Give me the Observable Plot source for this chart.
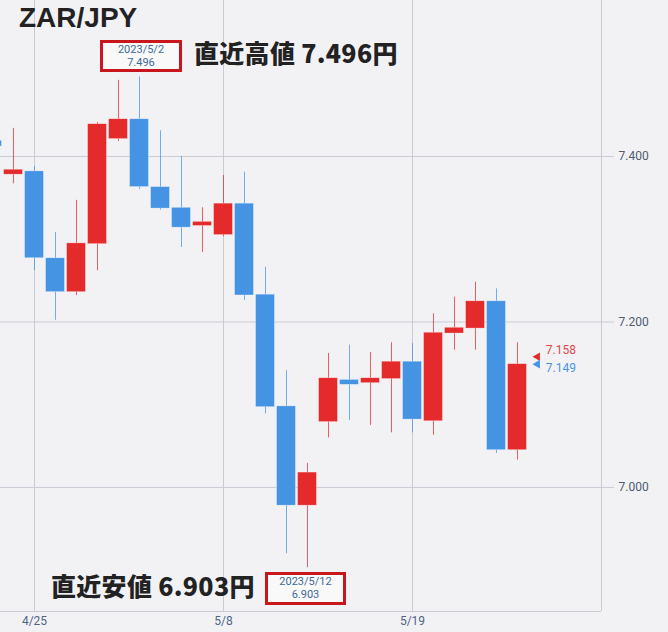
<!DOCTYPE html>
<html><head><meta charset="utf-8">
<script src="https://cdn.jsdelivr.net/npm/d3@7"></script>
<script src="https://cdn.jsdelivr.net/npm/@observablehq/plot@0.6"></script>
<style>
html,body{margin:0;padding:0;background:#f2f2f5;}
#wrap{position:relative;width:668px;height:632px;overflow:hidden;background:#f2f2f5;}
.ov{position:absolute;white-space:nowrap;}
.title{font:700 28px "Liberation Sans",Roboto,sans-serif;color:#222;}
.big{font:900 25px "Noto Sans CJK JP",sans-serif;color:#222;letter-spacing:0.3px;}
.box{border:3px solid #c8161d;background:#f9f9fa;box-sizing:border-box;text-align:center;font:11px Roboto,sans-serif;color:#3f6a95;line-height:13px;padding-top:0px;}
</style></head>
<body><div id="wrap"></div>
<script>
const dates  = ["4/21","4/24","4/25","4/26","4/27","4/28","5/1","5/2","5/3","5/4","5/5","5/8","5/9","5/10","5/11","5/12","5/15","5/16","5/17","5/18","5/19","5/22","5/23","5/24","5/25","5/26"];
const opens  = [7.419,7.378,7.382,7.277,7.236,7.294,7.421,7.445,7.363,7.338,7.316,7.305,7.343,7.233,7.098,6.978,7.079,7.130,7.126,7.131,7.152,7.080,7.186,7.192,7.225,7.045];
const highs  = [7.425,7.434,7.388,7.308,7.347,7.441,7.492,7.496,7.431,7.400,7.338,7.377,7.381,7.266,7.141,7.029,7.162,7.172,7.163,7.175,7.174,7.210,7.230,7.248,7.240,7.175];
const lows   = [7.405,7.367,7.262,7.202,7.232,7.262,7.418,7.360,7.335,7.290,7.284,7.303,7.226,7.089,6.920,6.903,7.060,7.081,7.075,7.066,7.066,7.063,7.166,7.166,7.041,7.033];
const closes = [7.412,7.384,7.277,7.236,7.295,7.439,7.445,7.363,7.337,7.314,7.321,7.343,7.232,7.097,6.978,7.018,7.132,7.124,7.132,7.152,7.082,7.187,7.193,7.225,7.045,7.149];
const yTicks = [7.0, 7.2, 7.4];
const xTickDates = ["4/25","5/8","5/19"];
const askPrice = 7.158;
const bidPrice = 7.149;

const RED = "#e52a2c", BLUE = "#4594e3", GRID = "#c9ccd5";
const data = dates.map((d,i)=>({i, d, o:opens[i], h:highs[i], l:lows[i], c:closes[i], up: closes[i]>=opens[i]}));
const xTickIdx = xTickDates.map(d=>dates.indexOf(d));
const lastIdx = data.length - 1;

const chart = Plot.plot({
  width: 668, height: 632,
  marginLeft: 0, marginRight: 67, marginTop: 0, marginBottom: 21,
  style: {background: "transparent", fontFamily: "Roboto, sans-serif", fontSize: "12px", overflow: "visible"},
  x: {type: "linear", domain: [0.381, 29], range: [0, 601], label: null},
  y: {domain: [6.8501, 7.5885], label: null},
  marks: [
    Plot.gridY(yTicks, {stroke: GRID, strokeOpacity: 1}),
    Plot.gridX(xTickIdx, {stroke: GRID, strokeOpacity: 1}),
    Plot.ruleX([29], {stroke: GRID, strokeOpacity: 1}),
    Plot.ruleY([6.8501], {stroke: GRID, strokeOpacity: 1}),
    Plot.axisY({anchor: "right", ticks: yTicks, tickFormat: d => d.toFixed(3), tickSize: 12, tickPadding: 5, stroke: GRID, color: "#4f5b6e", fontSize: 12, label: null}),
    Plot.axisX({ticks: xTickIdx, tickFormat: i => dates[i], tickSize: 0, tickPadding: 5, color: "#4f6485", fontSize: 12, label: null}),
    Plot.ruleX(data, {x: "i", y1: "l", y2: "h", stroke: d => d.up ? RED : BLUE, strokeOpacity: 0.75, strokeWidth: 1, clip: true}),
    Plot.rect(data, {x1: d => d.i - 0.45, x2: d => d.i + 0.45, y1: "o", y2: "c", fill: d => d.up ? RED : BLUE, stroke: "#ffffff", strokeOpacity: 0.5, strokeWidth: 0.6, clip: true}),
    Plot.dot([askPrice], {x: lastIdx + 0.95, y: d => d, symbol: "triangle", r: 3.2, rotate: -90, fill: RED, stroke: "none"}),
    Plot.dot([bidPrice], {x: lastIdx + 0.95, y: d => d, symbol: "triangle", r: 3.2, rotate: -90, fill: BLUE, stroke: "none"}),
    Plot.text([askPrice], {x: lastIdx + 1.35, y: d => d, text: d => d.toFixed(3), textAnchor: "start", dy: -7, fill: "#e0474a", fontSize: 12}),
    Plot.text([bidPrice], {x: lastIdx + 1.35, y: d => d, text: d => d.toFixed(3), textAnchor: "start", dy: 4, fill: "#4a94de", fontSize: 12})
  ]
});
chart.style.position = "absolute"; chart.style.left = "0"; chart.style.top = "0";
const wrap = document.getElementById("wrap");
wrap.appendChild(chart);

function add(cls, html, left, top, w, h){
  const el = document.createElement("div");
  el.className = "ov " + cls; el.innerHTML = html;
  el.style.left = left + "px"; el.style.top = top + "px";
  if (w) el.style.width = w + "px";
  if (h) el.style.height = h + "px";
  wrap.appendChild(el); return el;
}
const hiIdx = highs.indexOf(Math.max(...highs));
const loIdx = lows.indexOf(Math.min(...lows));
const hiVal = highs[hiIdx].toFixed(3), loVal = lows[loIdx].toFixed(3);
add("title", "ZAR/JPY", 19, 2);
add("box", "2023/" + dates[hiIdx] + "<br>" + hiVal, 100, 40, 82, 32);
add("big", "直近高値 " + hiVal + "円", 194, 34);
add("box", "2023/" + dates[loIdx] + "<br>" + loVal, 265, 572, 81, 33);
add("big", "直近安値 " + loVal + "円", 51, 567);
</script></body></html>
